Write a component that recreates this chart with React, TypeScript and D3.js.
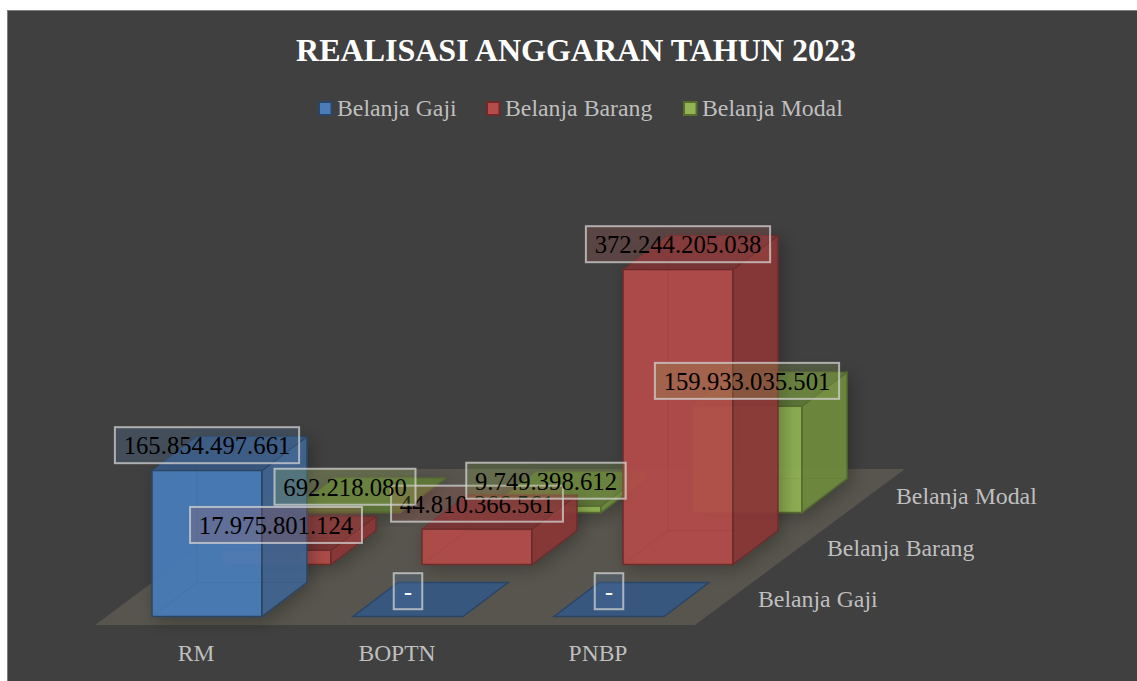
import React from "react";
import * as d3 from "d3";

const categories = ["RM", "BOPTN", "PNBP"];
const seriesNames = ["Belanja Gaji", "Belanja Barang", "Belanja Modal"];
const belanjaGaji = [165854497661, 0, 0];
const belanjaBarang = [17975801124, 44810366561, 372244205038];
const belanjaModal = [692218080, 9749398612, 159933035501];
const seriesValues = [belanjaGaji, belanjaBarang, belanjaModal];
const title = "REALISASI ANGGARAN TAHUN 2023";

const FONT = "'Liberation Serif', serif";
const W = 1137, H = 681;
const barW = 110, depthX = 45, depthY = -34;

// 3D projection of the chart's layout: each series row sits deeper, and is drawn at a smaller value scale
const catX = d3.scalePoint<string>().domain(categories).range([0, 402]);
const rowIdx = d3.scalePoint<string>().domain(seriesNames).range([0, 2]);
const rowBase = d3.scaleLinear().domain([0, 2]).range([616.5, 512.5]);
const rowShift = d3.scaleLinear().domain([0, 2]).range([152, 290]);
const rowHeightAtMax = [327.7, 295, 247.5];
const valueScales = rowHeightAtMax.map((h) => d3.scaleLinear().domain([0, 372244205038]).range([0, h]));

const palette = [
  { front: "#4a7cb8", side: "#3f6391", top: "#38577f", edge: "#2a4568", label: "#5077a8" },
  { front: "#b34c4a", side: "#8a3938", top: "#7b3433", edge: "#6e2a29", label: "#a85553" },
  { front: "#92b454", side: "#6f8a3e", top: "#5f7836", edge: "#556e2d", label: "#8faa55" },
];
const floorColor = "#57554d";
const mutedText = "#bfbfbf";

const poly = d3.line<[number, number]>().x((d) => d[0]).y((d) => d[1]);
const closed = (pts: [number, number][]) => poly(pts) + "Z";

const fmt = (v: number) => (v === 0 ? "-" : d3.format(",")(Math.round(v)).replace(/,/g, "."));

function Bar({ s, c }: { s: number; c: number }) {
  const p = palette[s];
  const v = seriesValues[s][c];
  const x0 = rowShift(s) + (catX(categories[c]) as number);
  const base = rowBase(s);
  const top = base - valueScales[s](v);
  const x1 = x0 + barW;
  if (v === 0) {
    return (
      <path
        d={closed([[x0, base], [x1, base], [x1 + depthX, base + depthY], [x0 + depthX, base + depthY]])}
        fill={p.top}
        stroke={p.edge}
        strokeWidth={1.5}
      />
    );
  }
  const dx = depthX, dy = depthY;
  return (
    <g filter="url(#soft)">
      <g opacity={0.93}>
        <path d={closed([[x0, top], [x1, top], [x1, base], [x0, base]])} fill={p.front} stroke={p.edge} strokeWidth={1.5} />
        <path d={closed([[x1, top], [x1 + dx, top + dy], [x1 + dx, base + dy], [x1, base]])} fill={p.side} stroke={p.edge} strokeWidth={1.5} />
        <path d={closed([[x0, top], [x1, top], [x1 + dx, top + dy], [x0 + dx, top + dy]])} fill={p.top} stroke={p.edge} strokeWidth={1} />
        <path
          d={`M${x0},${base}L${x0 + dx},${base + dy}L${x1 + dx},${base + dy}M${x0 + dx},${base + dy}L${x0 + dx},${top + dy}`}
          fill="none"
          stroke={p.edge}
          strokeOpacity={0.1}
        />
      </g>
    </g>
  );
}

function Label({ s, c }: { s: number; c: number }) {
  const p = palette[s];
  const v = seriesValues[s][c];
  const x0 = rowShift(s) + (catX(categories[c]) as number);
  const top = rowBase(s) - valueScales[s](v);
  const cx = x0 + barW / 2;
  const cy = top - 25.3;
  const txt = fmt(v);
  const fs = 24.7;
  const tw = v === 0 ? 11 : d3.sum(Array.from(txt), (ch) => (ch === "." ? 0.25 : 0.5)) * fs;
  const bw = tw + 17.5;
  return (
    <g>
      <rect x={cx - bw / 2} y={cy - 18} width={bw} height={36} fill={p.label} fillOpacity={0.26} stroke="#d3d3d3" strokeOpacity={0.75} strokeWidth={2} />
      <text
        x={cx}
        y={cy + 9}
        textAnchor="middle"
        fontFamily={FONT}
        fontSize={v === 0 ? 24 : fs}
        fontWeight={v === 0 ? 700 : 400}
        fill={v === 0 ? "#ffffff" : "#000000"}
      >
        {txt}
      </text>
    </g>
  );
}

export default function App() {
  const legendX = [319, 487, 684];
  return (
    <svg width={W} height={H} style={{ position: "absolute", left: 0, top: 0, background: "#fff" }}>
      <defs>
        <filter id="soft" x="-40%" y="-40%" width="180%" height="180%">
          <feDropShadow dx={4} dy={4} stdDeviation={9} floodColor="#000" floodOpacity={0.3} />
        </filter>
      </defs>
      <rect x={7.5} y={10.5} width={W} height={H} fill="#404040" stroke="#7f7f7f" strokeWidth={1} />
      <text x={576} y={61} textAnchor="middle" fontFamily={FONT} fontWeight={700} fontSize={32} fill="#ffffff">{title}</text>
      {seriesNames.map((n, i) => (
        <g key={n}>
          <rect x={legendX[i]} y={102} width={12.5} height={13} fill={palette[i].front} stroke={palette[i].edge} strokeWidth={2} />
          <text x={legendX[i] + 18} y={116} fontFamily={FONT} fontSize={23.8} fill={mutedText}>{n}</text>
        </g>
      ))}
      <path d={closed([[95, 625], [695, 625], [905, 469], [305, 469]])} fill={floorColor} />
      {[2, 1, 0].map((s) => categories.map((_, c) => <Bar key={`${s}-${c}`} s={s} c={c} />))}
      {categories.map((n) => (
        <text key={n} x={196 + (catX(n) as number)} y={661} textAnchor="middle" fontFamily={FONT} fontSize={23.5} fill={mutedText}>{n}</text>
      ))}
      {seriesNames.map((n) => {
        const i = rowIdx(n) as number;
        return (
          <text key={n} x={758 + i * 69} y={607 - i * 51.5} fontFamily={FONT} fontSize={23.8} fill={mutedText}>{n}</text>
        );
      })}
      {[0, 1, 2].map((s) => categories.map((_, c) => <Label key={`${s}-${c}`} s={s} c={c} />))}
    </svg>
  );
}
